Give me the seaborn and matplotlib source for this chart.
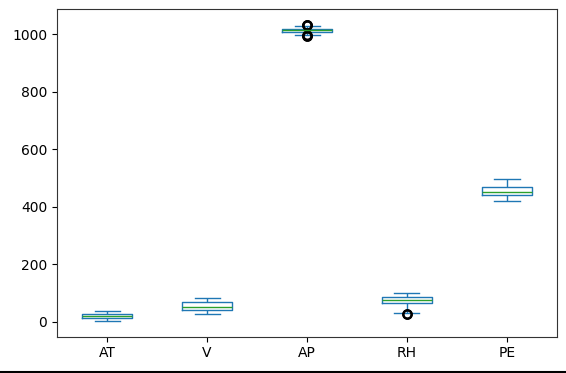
import matplotlib
matplotlib.use("Agg")
import matplotlib.pyplot as plt
import seaborn as sns
import pandas as pd
from matplotlib.lines import Line2D

categories = ["AT", "V", "AP", "RH", "PE"]

# representative samples: whisker ends, quartiles, median and outliers
at_values = [1.81, 13.51, 20.35, 25.72, 37.11]
v_values = [25.36, 41.74, 52.08, 66.54, 81.56]
ap_values = [992.89, 994.5, 996.0, 997.0, 1009.1, 1010.0, 1011.0, 1012.0, 1012.94,
             1014.0, 1015.0, 1016.0, 1017.26, 1029.0, 1030.5, 1032.0, 1033.3]
rh_values = [25.56, 28.0, 31.2, 63.33, 68.0, 72.0, 74.98, 78.0, 82.0, 84.83,
             90.0, 95.0, 100.16]
pe_values = [420.26, 439.75, 451.55, 468.43, 495.76]

yticks = [0, 200, 400, 600, 800, 1000]

series = dict(zip(categories, [at_values, v_values, ap_values, rh_values, pe_values]))
df = pd.DataFrame([(k, v) for k, vals in series.items() for v in vals],
                  columns=["var", "value"])

fig = plt.figure(figsize=(5.66, 3.73), dpi=100)
ax = fig.add_axes([57 / 566, 1 - 336.5 / 373, 500 / 566, 327.3 / 373])

blue = "#1f77b4"
sns.boxplot(data=df, x="var", y="value", order=categories, ax=ax,
            fill=False, color=blue, width=0.5, linewidth=1,
            medianprops=dict(color="#2ca02c", linewidth=1),
            whiskerprops=dict(color=blue, linewidth=1),
            capprops=dict(color=blue, linewidth=1),
            boxprops=dict(color=blue, linewidth=1),
            flierprops=dict(marker="o", markerfacecolor="none",
                            markeredgecolor="black", markersize=6,
                            markeredgewidth=1.6))

ax.set_ylim(-52, 1087)
ax.set_xlim(-0.5, 4.5)
ax.set_yticks(yticks)
ax.set_xlabel("")
ax.set_ylabel("")
for s in ax.spines.values():
    s.set_color("#333333")

fig.add_artist(Line2D([0, 1], [1.5 / 373, 1.5 / 373], color="black", linewidth=1.5,
                      transform=fig.transFigure))

fig.savefig("out.png", dpi=100)
